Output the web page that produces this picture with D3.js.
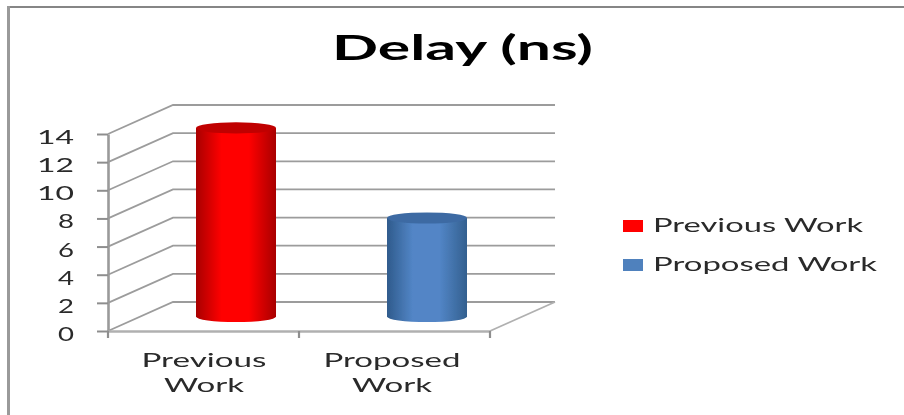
<!DOCTYPE html>
<html>
<head>
<meta charset="utf-8">
<script src="https://cdn.jsdelivr.net/npm/d3@7"></script>
<style>
  html, body { margin: 0; padding: 0; background: #fff; }
  text { font-family: Lato, "Open Sans", sans-serif; fill: #2a2a2a; }
</style>
</head>
<body>
<div class="chart"></div>
<script>
var categories = ["Previous Work", "Proposed Work"];
var values = [13.4, 7.0];
var yTicks = [0, 2, 4, 6, 8, 10, 12, 14];
var chartTitle = "Delay (ns)";

var width = 904, height = 415;
var dx = 65, dy = -29; // depth of the 3d box

var svg = d3.select(".chart")
  .append("svg")
    .attr("width", width)
    .attr("height", height)
    .style("display", "block");

var defs = svg.append("defs");
defs.append("filter").attr("id", "soft")
  .append("feGaussianBlur").attr("stdDeviation", 0.7);

function cylGradient(id, edgeL, mid, edgeR) {
  var g = defs.append("linearGradient").attr("id", id);
  g.append("stop").attr("offset", "0%").attr("stop-color", edgeL);
  g.append("stop").attr("offset", "32%").attr("stop-color", mid);
  g.append("stop").attr("offset", "66%").attr("stop-color", mid);
  g.append("stop").attr("offset", "100%").attr("stop-color", edgeR);
}
cylGradient("gradRed", "#a80000", "#ff0000", "#a80000");
cylGradient("gradBlue", "#2f5b8c", "#5285c6", "#33608f");

var colors = ["url(#gradRed)", "url(#gradBlue)"];
var topColors = ["#c00000", "#3d6ba3"];
var legendColors = ["#ff0000", "#4f81bd"];

// outer border of the chart
svg.append("line").attr("x1", 7).attr("x2", width).attr("y1", 7).attr("y2", 7)
  .attr("stroke", "#868686").attr("stroke-width", 2);
svg.append("line").attr("x1", 8.5).attr("x2", 8.5).attr("y1", 6).attr("y2", height)
  .attr("stroke", "#9a9a9a").attr("stroke-width", 3);

var g = svg.append("g").attr("filter", "url(#soft)");

var x = d3.scaleBand().domain(categories).range([108, 490]);
var y = d3.scaleLinear().domain([0, 14]).range([331, 134]);

// back wall gridlines and side wall diagonals
g.selectAll(".grid").data(yTicks).enter().append("path")
  .attr("class", "grid")
  .attr("fill", "none")
  .attr("stroke", "#9c9c9c")
  .attr("stroke-width", 1.8)
  .attr("d", function(d) {
    return "M108," + y(d) + "L" + (108 + dx) + "," + (y(d) + dy) + "L555," + (y(d) + dy);
  });

// floor
g.append("path")
  .attr("fill", "none")
  .attr("stroke", "#b0b0b0")
  .attr("stroke-width", 1.8)
  .attr("d", "M490," + y(0) + "L555," + (y(0) + dy));

// axes
var gY = g.append("g")
  .attr("transform", "translate(108,0)")
  .call(d3.axisLeft(y).tickValues(yTicks).tickSize(11).tickPadding(23).tickSizeOuter(0));
gY.select(".domain").attr("stroke", "#9a9a9a").attr("stroke-width", 2.6);
gY.selectAll(".tick line").attr("stroke", "#8e8e8e").attr("stroke-width", 2);
gY.selectAll("text")
  .style("font-family", "Lato, sans-serif")
  .style("font-size", "19px")
  .style("fill", "#2a2a2a")
  .attr("dy", "0.5em")
  .attr("textLength", function(d) { return d >= 10 ? 37 : 16; })
  .attr("lengthAdjust", "spacingAndGlyphs");

var gX = g.append("g")
  .attr("transform", "translate(0," + y(0) + ")")
  .call(d3.axisBottom(x).tickValues([]).tickSize(0));
gX.select(".domain").attr("stroke", "#b0b0b0").attr("stroke-width", 2.4);

g.selectAll(".xtick").data([108, x(categories[1]), 490]).enter().append("line")
  .attr("class", "xtick")
  .attr("x1", function(d) { return d; })
  .attr("x2", function(d) { return d; })
  .attr("y1", y(0))
  .attr("y2", y(0) + 7)
  .attr("stroke", "#8e8e8e")
  .attr("stroke-width", 2.2);

// cylinders, sitting half way into the box
var midDepth = 14.5;
var baseY = y(0) - midDepth;
var barW = 80, ry = 5.6;
var barX = function(d) { return x(d) + x.bandwidth() / 2 + 32.5 - barW / 2; };

var bars = g.selectAll(".cyl").data(categories).enter().append("g").attr("class", "cyl");

bars.append("path")
  .attr("fill", function(d, i) { return colors[i]; })
  .attr("d", function(d, i) {
    var l = barX(d), r = l + barW, top = y(values[i]) - midDepth;
    return "M" + l + "," + top + "L" + l + "," + baseY
      + "A" + (barW / 2) + "," + ry + " 0 0 0 " + r + "," + baseY
      + "L" + r + "," + top + "Z";
  });

bars.append("ellipse")
  .attr("cx", function(d) { return barX(d) + barW / 2; })
  .attr("cy", function(d, i) { return y(values[i]) - midDepth; })
  .attr("rx", barW / 2)
  .attr("ry", ry)
  .attr("fill", function(d, i) { return topColors[i]; });

// category labels, split on two lines
var labelX = [204, 392];
var labelW = [[125, 80], [137, 80]];
categories.forEach(function(c, i) {
  c.split(" ").forEach(function(w, j) {
    g.append("text")
      .attr("x", labelX[i])
      .attr("y", 367 + j * 25)
      .attr("text-anchor", "middle")
      .attr("font-size", 19.5)
      .attr("textLength", labelW[i][j])
      .attr("lengthAdjust", "spacingAndGlyphs")
      .text(w);
  });
});

// legend
var legendY = d3.scalePoint().domain(categories).range([226, 265]);
var legendW = [210, 224];
var legend = g.selectAll(".legend").data(categories).enter().append("g").attr("class", "legend");
legend.append("rect")
  .attr("x", 623)
  .attr("y", function(d) { return legendY(d) - 6; })
  .attr("width", 20)
  .attr("height", 12)
  .attr("fill", function(d, i) { return legendColors[i]; });
legend.append("text")
  .attr("x", 653)
  .attr("y", function(d) { return legendY(d) + 6; })
  .attr("font-size", 19)
  .attr("textLength", function(d, i) { return legendW[i]; })
  .attr("lengthAdjust", "spacingAndGlyphs")
  .text(function(d) { return d; });

// title
g.append("text")
  .attr("x", 332)
  .attr("y", 60)
  .attr("font-size", 34)
  .attr("font-weight", 700)
  .attr("textLength", 261)
  .attr("lengthAdjust", "spacingAndGlyphs")
  .style("fill", "#000")
  .text(chartTitle);
</script>
</body>
</html>
